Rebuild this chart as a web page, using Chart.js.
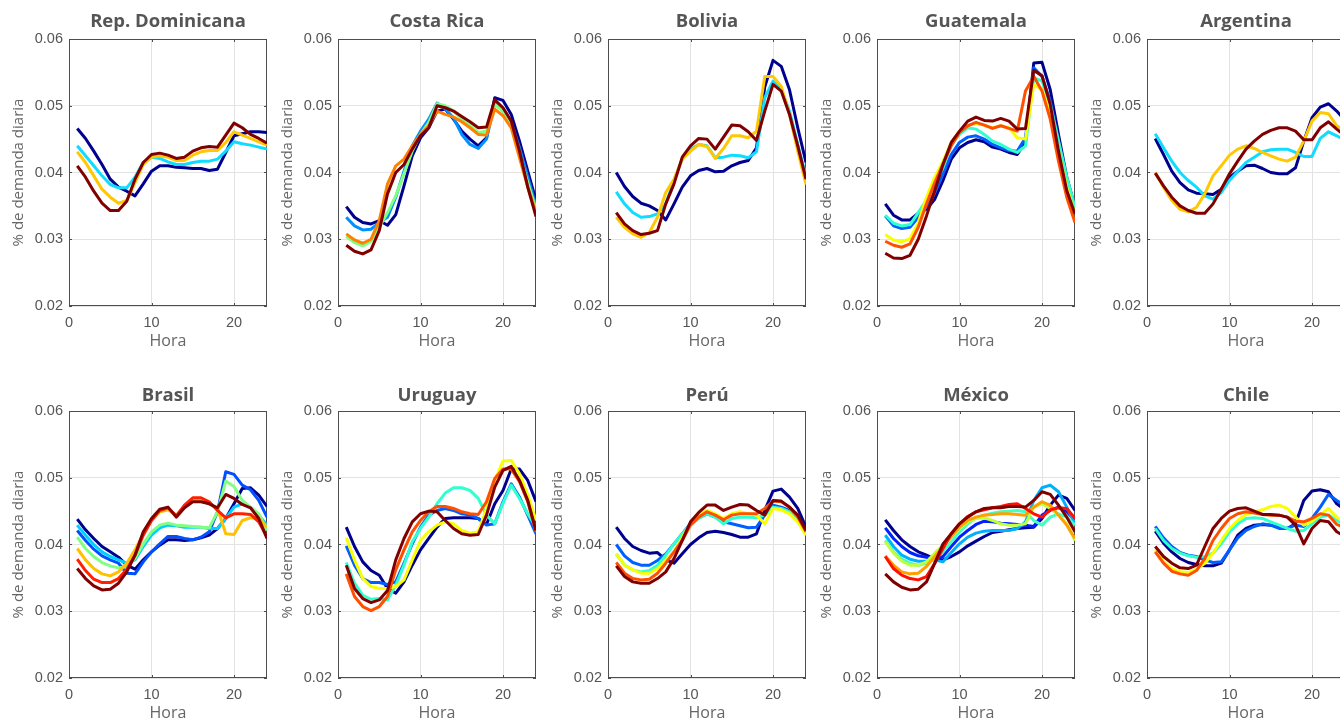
<!DOCTYPE html>
<html>
<head>
<meta charset="utf-8">
<script src="https://cdn.jsdelivr.net/npm/chart.js@4.4.1/dist/chart.umd.min.js"></script>
<style>
  html, body { margin: 0; padding: 0; background: #fff; width: 1340px; height: 721px; overflow: hidden; }
  #grid { position: relative; width: 1340px; height: 721px; }
  #grid canvas { position: absolute; }
</style>
</head>
<body>
<div id="grid"></div>
<script>
const hours = [1, 2, 3, 4, 5, 6, 7, 8, 9, 10, 11, 12, 13, 14, 15, 16, 17, 18, 19, 20, 21, 22, 23, 24];
const xTicks = [0, 10, 20];
const yTicks = [0.02, 0.03, 0.04, 0.05, 0.06];

const countries = ["Rep. Dominicana", "Costa Rica", "Bolivia", "Guatemala", "Argentina",
                   "Brasil", "Uruguay", "Perú", "México", "Chile"];

const pal4 = ["#00008f", "#10dcff", "#ffc800", "#800000"];
const pal5 = ["#00008f", "#0090ff", "#80ff80", "#ff8000", "#800000"];
const pal6 = ["#00008f", "#0060ff", "#30ffcf", "#f8ff00", "#ff5000", "#800000"];
const pal7 = ["#00008f", "#0050ff", "#00d0ff", "#80ff80", "#ffc000", "#ff2000", "#800000"];
const pal8 = ["#00008f", "#0020ff", "#00b0ff", "#40ffbf", "#bfff40", "#ffa000", "#ff1000", "#800000"];

const repDominicana = [
  [0.0466,0.0451,0.0432,0.0412,0.0390,0.0378,0.0372,0.0365,0.0383,0.0402,0.0410,0.0410,0.0408,0.0407,0.0406,0.0406,0.0403,0.0405,0.0430,0.0455,0.0458,0.0461,0.0461,0.0460],
  [0.0440,0.0425,0.0410,0.0395,0.0382,0.0377,0.0377,0.0393,0.0415,0.0423,0.0421,0.0416,0.0412,0.0412,0.0415,0.0417,0.0417,0.0420,0.0432,0.0446,0.0443,0.0441,0.0438,0.0435],
  [0.0431,0.0415,0.0395,0.0375,0.0363,0.0354,0.0358,0.0385,0.0412,0.0423,0.0425,0.0423,0.0418,0.0418,0.0426,0.0431,0.0433,0.0433,0.0445,0.0461,0.0456,0.0451,0.0446,0.0441],
  [0.0410,0.0393,0.0372,0.0354,0.0343,0.0343,0.0357,0.0390,0.0415,0.0427,0.0429,0.0426,0.0421,0.0423,0.0432,0.0437,0.0439,0.0438,0.0456,0.0474,0.0467,0.0457,0.0451,0.0444]
];
const costaRica = [
  [0.0349,0.0333,0.0325,0.0323,0.0328,0.0321,0.0337,0.0380,0.0425,0.0452,0.0467,0.0492,0.0495,0.0480,0.0462,0.0450,0.0440,0.0452,0.0512,0.0508,0.0487,0.0447,0.0402,0.0358],
  [0.0333,0.0320,0.0314,0.0315,0.0325,0.0333,0.0363,0.0402,0.0440,0.0462,0.0480,0.0504,0.0495,0.0482,0.0457,0.0442,0.0436,0.0450,0.0504,0.0492,0.0475,0.0437,0.0393,0.0350],
  [0.0304,0.0295,0.0290,0.0297,0.0318,0.0340,0.0365,0.0398,0.0432,0.0457,0.0475,0.0503,0.0500,0.0492,0.0480,0.0470,0.0460,0.0462,0.0502,0.0492,0.0470,0.0427,0.0385,0.0345],
  [0.0308,0.0299,0.0294,0.0300,0.0328,0.0383,0.0410,0.0420,0.0440,0.0457,0.0470,0.0492,0.0487,0.0483,0.0476,0.0467,0.0457,0.0456,0.0495,0.0485,0.0467,0.0422,0.0378,0.0340],
  [0.0291,0.0282,0.0278,0.0284,0.0313,0.0368,0.0400,0.0412,0.0435,0.0455,0.0467,0.0500,0.0497,0.0492,0.0484,0.0476,0.0467,0.0468,0.0509,0.0497,0.0477,0.0432,0.0378,0.0334]
];
const bolivia = [
  [0.0400,0.0379,0.0364,0.0354,0.0350,0.0343,0.0329,0.0353,0.0378,0.0395,0.0403,0.0406,0.0401,0.0402,0.0410,0.0415,0.0418,0.0437,0.0528,0.0568,0.0559,0.0524,0.0467,0.0415],
  [0.0371,0.0353,0.0340,0.0333,0.0334,0.0338,0.0353,0.0388,0.0420,0.0435,0.0442,0.0440,0.0422,0.0423,0.0426,0.0425,0.0422,0.0431,0.0512,0.0537,0.0524,0.0492,0.0442,0.0395],
  [0.0333,0.0318,0.0308,0.0303,0.0310,0.0333,0.0370,0.0390,0.0420,0.0432,0.0442,0.0439,0.0421,0.0436,0.0455,0.0455,0.0452,0.0462,0.0544,0.0544,0.0529,0.0487,0.0432,0.0382],
  [0.0340,0.0323,0.0313,0.0307,0.0309,0.0313,0.0353,0.0383,0.0423,0.0440,0.0451,0.0450,0.0435,0.0453,0.0471,0.0470,0.0461,0.0448,0.0492,0.0532,0.0522,0.0487,0.0440,0.0390]
];
const guatemala = [
  [0.0353,0.0336,0.0329,0.0329,0.0339,0.0345,0.0360,0.0388,0.0420,0.0437,0.0445,0.0449,0.0446,0.0438,0.0435,0.0430,0.0427,0.0445,0.0564,0.0565,0.0524,0.0457,0.0393,0.0348],
  [0.0335,0.0320,0.0316,0.0318,0.0333,0.0349,0.0370,0.0398,0.0427,0.0445,0.0453,0.0455,0.0450,0.0442,0.0437,0.0433,0.0432,0.0452,0.0557,0.0544,0.0507,0.0447,0.0388,0.0345],
  [0.0336,0.0324,0.0320,0.0322,0.0340,0.0359,0.0383,0.0407,0.0442,0.0457,0.0467,0.0465,0.0457,0.0447,0.0442,0.0435,0.0430,0.0440,0.0542,0.0537,0.0502,0.0447,0.0393,0.0348],
  [0.0307,0.0299,0.0296,0.0301,0.0325,0.0363,0.0393,0.0417,0.0445,0.0462,0.0471,0.0473,0.0471,0.0467,0.0470,0.0467,0.0452,0.0450,0.0532,0.0524,0.0490,0.0432,0.0378,0.0338],
  [0.0297,0.0291,0.0288,0.0293,0.0318,0.0353,0.0385,0.0413,0.0440,0.0460,0.0470,0.0475,0.0471,0.0466,0.0470,0.0466,0.0462,0.0522,0.0544,0.0522,0.0480,0.0417,0.0363,0.0325],
  [0.0279,0.0272,0.0271,0.0276,0.0300,0.0335,0.0373,0.0412,0.0445,0.0462,0.0477,0.0483,0.0478,0.0477,0.0481,0.0477,0.0465,0.0466,0.0553,0.0545,0.0502,0.0432,0.0373,0.0338]
];
const argentina = [
  [0.0451,0.0427,0.0402,0.0385,0.0374,0.0369,0.0368,0.0367,0.0375,0.0393,0.0402,0.0410,0.0411,0.0406,0.0400,0.0398,0.0398,0.0407,0.0447,0.0482,0.0498,0.0503,0.0492,0.0478],
  [0.0458,0.0437,0.0417,0.0400,0.0388,0.0378,0.0365,0.0360,0.0370,0.0388,0.0402,0.0415,0.0423,0.0431,0.0434,0.0435,0.0435,0.0430,0.0424,0.0424,0.0451,0.0461,0.0455,0.0448],
  [0.0400,0.0378,0.0358,0.0345,0.0341,0.0348,0.0368,0.0395,0.0410,0.0426,0.0435,0.0440,0.0436,0.0430,0.0425,0.0420,0.0417,0.0423,0.0447,0.0477,0.0490,0.0488,0.0470,0.0462],
  [0.0399,0.0380,0.0363,0.0350,0.0343,0.0339,0.0339,0.0353,0.0375,0.0398,0.0417,0.0435,0.0447,0.0457,0.0463,0.0467,0.0467,0.0462,0.0449,0.0449,0.0467,0.0476,0.0465,0.0455]
];
const brasil = [
  [0.0438,0.0422,0.0409,0.0397,0.0389,0.0381,0.0369,0.0363,0.0377,0.0389,0.0399,0.0407,0.0407,0.0406,0.0407,0.0410,0.0414,0.0424,0.0439,0.0461,0.0484,0.0485,0.0474,0.0457],
  [0.0421,0.0406,0.0393,0.0383,0.0377,0.0372,0.0357,0.0356,0.0374,0.0389,0.0401,0.0412,0.0412,0.0409,0.0407,0.0411,0.0419,0.0449,0.0509,0.0505,0.0489,0.0482,0.0466,0.0441],
  [0.0429,0.0414,0.0400,0.0389,0.0382,0.0377,0.0372,0.0377,0.0397,0.0414,0.0425,0.0429,0.0428,0.0426,0.0426,0.0426,0.0424,0.0424,0.0439,0.0456,0.0461,0.0456,0.0444,0.0429],
  [0.0411,0.0394,0.0382,0.0373,0.0368,0.0365,0.0367,0.0379,0.0401,0.0419,0.0429,0.0432,0.0429,0.0428,0.0427,0.0426,0.0425,0.0449,0.0495,0.0487,0.0466,0.0456,0.0446,0.0421],
  [0.0394,0.0377,0.0364,0.0356,0.0353,0.0359,0.0372,0.0392,0.0416,0.0436,0.0449,0.0452,0.0444,0.0456,0.0466,0.0466,0.0461,0.0454,0.0416,0.0415,0.0436,0.0440,0.0439,0.0426],
  [0.0378,0.0361,0.0348,0.0343,0.0343,0.0349,0.0363,0.0384,0.0414,0.0436,0.0451,0.0455,0.0443,0.0459,0.0470,0.0470,0.0464,0.0451,0.0440,0.0446,0.0446,0.0445,0.0434,0.0411],
  [0.0364,0.0349,0.0338,0.0332,0.0333,0.0342,0.0359,0.0384,0.0419,0.0439,0.0453,0.0456,0.0441,0.0455,0.0464,0.0464,0.0461,0.0455,0.0475,0.0469,0.0460,0.0455,0.0439,0.0409]
];
const uruguay = [
  [0.0426,0.0397,0.0374,0.0361,0.0354,0.0334,0.0327,0.0344,0.0369,0.0392,0.0409,0.0426,0.0439,0.0440,0.0440,0.0440,0.0439,0.0430,0.0461,0.0481,0.0513,0.0513,0.0496,0.0464],
  [0.0398,0.0369,0.0349,0.0343,0.0343,0.0340,0.0344,0.0372,0.0401,0.0426,0.0444,0.0451,0.0454,0.0451,0.0446,0.0444,0.0439,0.0429,0.0431,0.0464,0.0491,0.0471,0.0444,0.0416],
  [0.0373,0.0342,0.0324,0.0318,0.0319,0.0317,0.0339,0.0369,0.0404,0.0424,0.0441,0.0461,0.0477,0.0485,0.0485,0.0481,0.0469,0.0444,0.0431,0.0462,0.0489,0.0469,0.0446,0.0426],
  [0.0410,0.0377,0.0349,0.0337,0.0334,0.0334,0.0337,0.0347,0.0377,0.0406,0.0419,0.0429,0.0434,0.0431,0.0421,0.0417,0.0419,0.0454,0.0496,0.0525,0.0526,0.0506,0.0474,0.0436],
  [0.0356,0.0322,0.0307,0.0301,0.0307,0.0322,0.0362,0.0392,0.0419,0.0436,0.0449,0.0457,0.0457,0.0454,0.0449,0.0446,0.0445,0.0464,0.0499,0.0513,0.0513,0.0494,0.0464,0.0419],
  [0.0369,0.0334,0.0319,0.0313,0.0317,0.0331,0.0377,0.0409,0.0434,0.0446,0.0450,0.0449,0.0436,0.0424,0.0416,0.0414,0.0415,0.0444,0.0486,0.0511,0.0517,0.0496,0.0466,0.0421]
];
const peru = [
  [0.0426,0.0409,0.0397,0.0391,0.0387,0.0388,0.0377,0.0372,0.0386,0.0400,0.0410,0.0418,0.0420,0.0418,0.0415,0.0411,0.0411,0.0416,0.0451,0.0480,0.0483,0.0471,0.0454,0.0426],
  [0.0400,0.0383,0.0373,0.0369,0.0369,0.0376,0.0386,0.0401,0.0416,0.0431,0.0440,0.0446,0.0441,0.0434,0.0431,0.0428,0.0425,0.0426,0.0444,0.0459,0.0456,0.0451,0.0439,0.0419],
  [0.0386,0.0369,0.0362,0.0359,0.0361,0.0369,0.0384,0.0401,0.0416,0.0430,0.0439,0.0446,0.0441,0.0431,0.0439,0.0441,0.0441,0.0440,0.0444,0.0456,0.0454,0.0449,0.0436,0.0416],
  [0.0386,0.0369,0.0362,0.0357,0.0357,0.0364,0.0377,0.0389,0.0411,0.0431,0.0444,0.0451,0.0446,0.0439,0.0446,0.0449,0.0446,0.0444,0.0431,0.0454,0.0452,0.0446,0.0434,0.0414],
  [0.0373,0.0357,0.0349,0.0347,0.0348,0.0357,0.0372,0.0389,0.0406,0.0429,0.0441,0.0449,0.0444,0.0437,0.0444,0.0446,0.0446,0.0446,0.0454,0.0465,0.0464,0.0456,0.0441,0.0419],
  [0.0368,0.0352,0.0344,0.0342,0.0342,0.0349,0.0359,0.0379,0.0406,0.0434,0.0448,0.0459,0.0459,0.0451,0.0456,0.0460,0.0459,0.0451,0.0444,0.0466,0.0465,0.0456,0.0444,0.0421]
];
const mexico = [
  [0.0437,0.0421,0.0407,0.0397,0.0389,0.0384,0.0378,0.0377,0.0382,0.0389,0.0398,0.0405,0.0412,0.0418,0.0420,0.0422,0.0424,0.0425,0.0426,0.0439,0.0459,0.0474,0.0469,0.0451],
  [0.0425,0.0409,0.0397,0.0388,0.0383,0.0381,0.0378,0.0382,0.0397,0.0411,0.0421,0.0430,0.0435,0.0434,0.0432,0.0431,0.0430,0.0429,0.0427,0.0444,0.0451,0.0456,0.0449,0.0436],
  [0.0414,0.0397,0.0384,0.0378,0.0375,0.0375,0.0377,0.0374,0.0388,0.0401,0.0411,0.0417,0.0420,0.0421,0.0421,0.0421,0.0424,0.0434,0.0466,0.0485,0.0489,0.0479,0.0456,0.0431],
  [0.0406,0.0389,0.0378,0.0372,0.0369,0.0372,0.0378,0.0389,0.0404,0.0419,0.0431,0.0440,0.0444,0.0447,0.0449,0.0450,0.0451,0.0449,0.0436,0.0429,0.0441,0.0446,0.0441,0.0429],
  [0.0404,0.0387,0.0375,0.0369,0.0369,0.0374,0.0387,0.0399,0.0411,0.0424,0.0434,0.0439,0.0440,0.0436,0.0431,0.0429,0.0429,0.0431,0.0456,0.0461,0.0454,0.0444,0.0431,0.0406],
  [0.0383,0.0369,0.0359,0.0356,0.0357,0.0367,0.0382,0.0397,0.0412,0.0426,0.0436,0.0441,0.0444,0.0445,0.0446,0.0446,0.0445,0.0444,0.0456,0.0464,0.0459,0.0444,0.0429,0.0409],
  [0.0382,0.0364,0.0354,0.0349,0.0347,0.0352,0.0372,0.0394,0.0416,0.0431,0.0442,0.0449,0.0452,0.0455,0.0457,0.0460,0.0461,0.0454,0.0446,0.0441,0.0452,0.0455,0.0454,0.0439],
  [0.0356,0.0344,0.0336,0.0332,0.0333,0.0344,0.0372,0.0401,0.0416,0.0431,0.0441,0.0449,0.0454,0.0455,0.0455,0.0457,0.0457,0.0456,0.0466,0.0479,0.0475,0.0459,0.0441,0.0419]
];
const chile = [
  [0.0420,0.0402,0.0389,0.0379,0.0373,0.0370,0.0368,0.0368,0.0372,0.0392,0.0414,0.0424,0.0429,0.0430,0.0429,0.0426,0.0424,0.0431,0.0466,0.0480,0.0482,0.0479,0.0461,0.0452],
  [0.0427,0.0410,0.0397,0.0388,0.0384,0.0382,0.0377,0.0373,0.0374,0.0392,0.0410,0.0421,0.0427,0.0431,0.0429,0.0424,0.0424,0.0429,0.0427,0.0439,0.0456,0.0475,0.0466,0.0458],
  [0.0424,0.0406,0.0394,0.0387,0.0383,0.0381,0.0382,0.0387,0.0401,0.0419,0.0431,0.0439,0.0440,0.0439,0.0434,0.0429,0.0424,0.0420,0.0421,0.0431,0.0441,0.0444,0.0436,0.0430],
  [0.0392,0.0374,0.0364,0.0359,0.0358,0.0363,0.0372,0.0387,0.0406,0.0424,0.0436,0.0445,0.0449,0.0452,0.0457,0.0459,0.0454,0.0441,0.0429,0.0435,0.0444,0.0454,0.0441,0.0432],
  [0.0389,0.0372,0.0360,0.0356,0.0354,0.0361,0.0379,0.0406,0.0424,0.0439,0.0446,0.0449,0.0447,0.0445,0.0444,0.0444,0.0441,0.0435,0.0434,0.0439,0.0446,0.0444,0.0430,0.0425],
  [0.0397,0.0382,0.0372,0.0365,0.0364,0.0369,0.0397,0.0424,0.0439,0.0450,0.0454,0.0455,0.0450,0.0445,0.0445,0.0444,0.0441,0.0429,0.0401,0.0424,0.0436,0.0434,0.0419,0.0412]
];

const panelData = [repDominicana, costaRica, bolivia, guatemala, argentina,
                   brasil, uruguay, peru, mexico, chile];
const panelColors = [pal4, pal5, pal4, pal6, pal4, pal7, pal6, pal6, pal8, pal6];

const colLeft = [0, 269, 539, 808, 1078];
const rowTop = [0, 372];
const titlePad = [{ top: 11, bottom: 5.8 }, { top: 13, bottom: 3.8 }];
const PANEL_W = 269;
const PANEL_H = 349;

const AXIS_GRAY = "#4d4d4d";
const TEXT_GRAY = "#555555";

// box round the plot area, with short inward ticks like the original
const framePlugin = {
  id: "frame",
  beforeDatasetsDraw(chart) {
    const { ctx, chartArea: a, scales } = chart;
    ctx.save();
    ctx.strokeStyle = AXIS_GRAY;
    ctx.lineWidth = 1;
    ctx.strokeRect(Math.round(a.left) + 0.5, Math.round(a.top) + 0.5,
                   Math.round(a.width) - 1, Math.round(a.height) - 1);
    ctx.beginPath();
    for (const v of xTicks) {
      const px = Math.round(scales.x.getPixelForValue(v)) + 0.5;
      ctx.moveTo(px, a.bottom); ctx.lineTo(px, a.bottom - 3);
      ctx.moveTo(px, a.top); ctx.lineTo(px, a.top + 3);
    }
    for (const v of yTicks) {
      const py = Math.round(scales.y.getPixelForValue(v)) + 0.5;
      ctx.moveTo(a.left, py); ctx.lineTo(a.left + 3, py);
      ctx.moveTo(a.right, py); ctx.lineTo(a.right - 3, py);
    }
    ctx.stroke();
    ctx.restore();
  }
};

const tickFont = { family: "'Liberation Sans', Arial, sans-serif", size: 14.5 };
const gridStyle = { color: "#e3e3e3", lineWidth: 1, drawTicks: false };

function makePanel(i) {
  const row = Math.floor(i / 5);
  const canvas = document.createElement("canvas");
  canvas.width = PANEL_W;
  canvas.height = PANEL_H;
  canvas.style.left = colLeft[i % 5] + "px";
  canvas.style.top = rowTop[row] + "px";
  document.getElementById("grid").appendChild(canvas);

  const colors = panelColors[i];
  const datasets = panelData[i].map((vals, k) => ({
    data: vals.map((v, j) => ({ x: hours[j], y: v })),
    borderColor: colors[k],
    backgroundColor: colors[k],
    borderWidth: 3,
    pointRadius: 0,
    tension: 0,
    borderJoinStyle: "round",
    order: panelData[i].length - 1 - k,
  }));

  new Chart(canvas, {
    type: "line",
    data: { datasets },
    plugins: [framePlugin],
    options: {
      responsive: false,
      animation: false,
      devicePixelRatio: 1,
      layout: { padding: { left: 0, right: 2, top: 0, bottom: 0 } },
      plugins: {
        legend: { display: false },
        tooltip: { enabled: false },
        title: {
          display: true,
          text: countries[i],
          fullSize: false,
          color: TEXT_GRAY,
          font: { family: "'Open Sans', sans-serif", size: 18.5, weight: "bold", lineHeight: 1.2 },
          padding: titlePad[row],
        },
      },
      scales: {
        x: {
          type: "linear",
          min: 0,
          max: 24,
          afterBuildTicks: (s) => { s.ticks = xTicks.map((v) => ({ value: v })); },
          afterFit: (s) => { s.height = 43; },
          ticks: { color: TEXT_GRAY, font: tickFont, padding: 8, maxRotation: 0 },
          grid: gridStyle,
          border: { display: false },
          title: {
            display: true,
            text: "Hora",
            color: "#666666",
            font: { family: "'Open Sans', sans-serif", size: 16, lineHeight: 1 },
            padding: { top: 0, bottom: 0 },
          },
        },
        y: {
          min: 0.02,
          max: 0.06,
          afterBuildTicks: (s) => { s.ticks = yTicks.map((v) => ({ value: v })); },
          afterFit: (s) => { s.width = 69; },
          ticks: {
            color: TEXT_GRAY,
            font: tickFont,
            padding: 6,
            callback: (v) => v.toFixed(2),
          },
          grid: gridStyle,
          border: { display: false },
          title: {
            display: true,
            text: "% de demanda diaria",
            color: "#666666",
            font: { family: "'Open Sans', sans-serif", size: 15, lineHeight: 1.2 },
            padding: { top: 10, bottom: 0 },
          },
        },
      },
    },
  });
}

for (let i = 0; i < countries.length; i++) makePanel(i);
</script>
</body>
</html>
